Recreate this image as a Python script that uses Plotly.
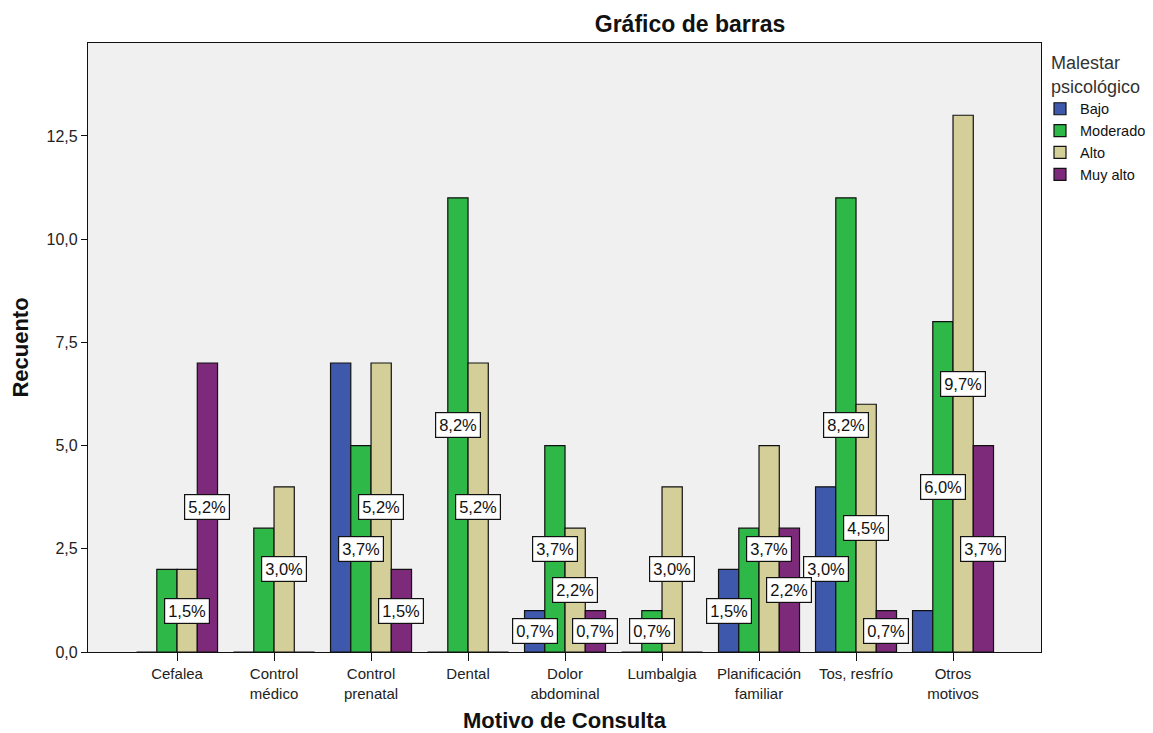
import numpy as np
import plotly.graph_objects as go

categories = ["Cefalea", "Control<br>médico", "Control<br>prenatal", "Dental", "Dolor<br>abdominal",
              "Lumbalgia", "Planificación<br>familiar", "Tos, resfrío", "Otros<br>motivos"]
series_names = ["Bajo", "Moderado", "Alto", "Muy alto"]
bajo = [0, 0, 7, 0, 1, 0, 2, 4, 1]
moderado = [2, 3, 5, 11, 5, 1, 3, 11, 8]
alto = [2, 4, 7, 7, 3, 4, 5, 6, 13]
muy_alto = [7, 0, 2, 0, 1, 0, 3, 1, 5]
# which percentage labels SPSS actually drew (the rest were hidden by overlap)
bajo_label = [0, 0, 0, 0, 1, 0, 1, 1, 0]
moderado_label = [0, 0, 1, 1, 1, 1, 0, 1, 1]
alto_label = [1, 1, 1, 1, 1, 1, 1, 1, 1]
muy_alto_label = [1, 0, 1, 0, 1, 0, 1, 1, 1]
colors = ["#3E58AC", "#2EB848", "#D4CF98", "#7D2A7B"]

values = [bajo, moderado, alto, muy_alto]
shown = [bajo_label, moderado_label, alto_label, muy_alto_label]
total = sum(sum(v) for v in values)
x = np.arange(len(categories))
bargap = 0.165
w = (1 - bargap) / len(series_names)

# page has an 8px body margin, so the figure is 8px smaller than the window
W, H = 1145, 725

fig = go.Figure()
for name, vals, color in zip(series_names, values, colors):
    fig.add_trace(
        go.Bar(
            x=x,
            y=vals,
            name=name,
            marker=dict(color=color, line=dict(color="#111111", width=1.2)),
        )
    )

annotations = []
for k, (vals, mask) in enumerate(zip(values, shown)):
    for i, (v, m) in enumerate(zip(vals, mask)):
        if not m or v == 0:
            continue
        pct = f"{100 * v / total:.1f}%".replace(".", ",")
        annotations.append(
            dict(
                x=i + (k - 1.5) * w,
                y=v / 2,
                xref="x",
                yref="y",
                text=pct,
                showarrow=False,
                bgcolor="white",
                bordercolor="#111111",
                borderwidth=1.2,
                borderpad=3,
                font=dict(size=16.5, color="#111111"),
            )
        )

fig.update_layout(
    width=W,
    height=H,
    barmode="group",
    bargap=bargap,
    bargroupgap=0,
    separators=",.",
    paper_bgcolor="white",
    plot_bgcolor="#F0F0F0",
    font=dict(family="Liberation Sans, Arial, sans-serif", color="#222222", size=16),
    margin=dict(l=80, r=112, t=35, b=81, autoexpand=False),
    annotations=annotations,
    title=dict(text="<b>Gráfico de barras</b>", x=682 / W, xanchor="center", y=1 - 16 / H,
               yanchor="middle", font=dict(size=23, color="#111111")),
    legend=dict(
        title=dict(text="Malestar<br>psicológico", font=dict(size=18, color="#333333"), side="top center"),
        xref="container",
        yref="container",
        x=1032 / W,
        xanchor="left",
        y=1 - 38 / H,
        yanchor="top",
        font=dict(size=14.5, color="#111111"),
        itemwidth=30,
        tracegroupgap=0,
        bgcolor="rgba(0,0,0,0)",
    ),
)
fig.update_xaxes(
    tickvals=x,
    ticktext=categories,
    range=[-0.918, 8.907],
    showline=True,
    mirror=True,
    linecolor="#111111",
    linewidth=1.2,
    ticks="outside",
    ticklen=8,
    tickcolor="#111111",
    showgrid=False,
    zeroline=False,
    automargin=False,
    tickfont=dict(size=15),
    title=dict(text="<b>Motivo de Consulta</b>", font=dict(size=22, color="#111111"), standoff=19),
)
fig.update_yaxes(
    range=[0, 14.75],
    tickvals=[0, 2.5, 5, 7.5, 10, 12.5],
    tickformat=".1f",
    showline=True,
    mirror=True,
    linecolor="#111111",
    linewidth=1.2,
    ticks="outside",
    ticklen=6,
    tickcolor="#111111",
    showgrid=False,
    zeroline=False,
    automargin=False,
    tickfont=dict(size=16),
    title=dict(text="<b>Recuento</b>", font=dict(size=22, color="#111111"), standoff=14),
)

fig.write_html("out.html")
